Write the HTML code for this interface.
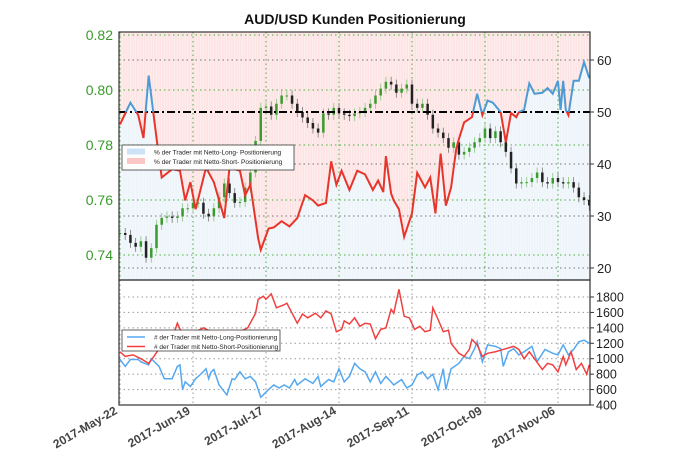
<!DOCTYPE html>
<html><head><meta charset="utf-8"><style>
body{margin:0;background:#fff;}
svg{display:block;font-family:"Liberation Sans",sans-serif;}
</style></head><body>
<svg id="chart" width="680" height="470" viewBox="0 0 680 470" xmlns="http://www.w3.org/2000/svg">
<defs>
<clipPath id="mainClip"><rect x="119" y="32" width="471" height="248"/></clipPath>
<clipPath id="aboveClip"><rect x="119" y="32" width="471" height="80"/></clipPath>
<clipPath id="belowClip"><rect x="119" y="112" width="471" height="168"/></clipPath>
<clipPath id="botClip"><rect x="119" y="280" width="471" height="125"/></clipPath>
<pattern id="stripes" width="2.6" height="10" patternUnits="userSpaceOnUse"><rect x="0" y="0" width="0.8" height="10" fill="#ffffff" opacity="0.5"/></pattern>
</defs>
<text x="355" y="24" text-anchor="middle" font-size="14" font-weight="bold" fill="#111">AUD/USD Kunden Positionierung</text>
<g id="main"></g>
<g id="bottom"></g>
<g id="axes"></g>
</svg>
<script>
// ---- data ----
const startDate = new Date(2017,4,22);
const xTickLabels = ["2017-May-22","2017-Jun-19","2017-Jul-17","2017-Aug-14","2017-Sep-11","2017-Oct-09","2017-Nov-06"];
const xTickDays = [0,28,56,84,112,140,168];
const priceTicks = [0.82,0.80,0.78,0.76,0.74];
const pctTicks = [60,50,40,30,20];
const countTicks = [1800,1600,1400,1200,1000,800,600,400];
const closes = [0.748,0.7473,0.7444,0.743,0.745,0.739,0.7425,0.751,0.7535,0.754,0.7535,0.754,0.757,0.757,0.759,0.759,0.755,0.754,0.757,0.761,0.766,0.7625,0.759,0.7593,0.7645,0.77,0.7815,0.7935,0.794,0.791,0.795,0.798,0.798,0.795,0.792,0.790,0.788,0.786,0.7845,0.7915,0.791,0.7935,0.7915,0.791,0.7905,0.7915,0.792,0.7935,0.795,0.798,0.8005,0.803,0.802,0.799,0.8005,0.802,0.795,0.7935,0.795,0.791,0.786,0.7845,0.7825,0.779,0.781,0.7765,0.7775,0.779,0.781,0.7825,0.786,0.7825,0.785,0.781,0.7775,0.7715,0.766,0.7665,0.7665,0.768,0.770,0.7665,0.766,0.768,0.7665,0.766,0.7665,0.7645,0.761,0.760,0.758];
const pctDays = [0,4,7,9,11,14,16,20,23,25,27,29,33,36,40,42,44,46,48,50,53,54,57,59,62,65,68,71,74,76,79,81,83,85,88,91,94,97,99,101,102,104,105,107,109,112,114,117,119,121,123,125,127,129,130,132,135,137,139,141,143,146,148,150,152,153,155,157,159,162,164,166,168,169,170,171,172,174,176,178,180];
const pctLong = [47.6,51.8,49.4,45,57,45,37.4,39,38.7,33,36.5,31.3,39.3,36.5,29.6,39.3,39,38.7,34,36,25.7,23.5,27.6,27.8,29,28,29.6,34,33,32,32.5,40.5,36,38.7,35,38.7,38,35,36.8,34.6,41.5,34.3,33,31.3,26,30.5,38.3,35.5,37.4,30.5,42,32,35.5,43,44.8,48,49,53.5,49.4,52.2,51.8,50,44.2,49.8,49,50,50.4,55.5,53.5,53.7,54.6,53.5,56,50.4,56,50.4,49.4,56,56,59.6,56.5];
const longDays = [0,2,4,7,8,11,12,15,17,20,22,23,24,25,27,29,31,33,34,35,36,38,41,43,44,46,48,50,52,54,57,59,61,63,65,67,68,71,74,76,77,80,82,84,86,88,90,92,94,96,98,100,102,104,105,108,110,112,114,116,118,120,122,124,125,127,130,132,134,136,137,139,141,144,146,147,149,151,153,155,158,160,163,166,168,170,172,174,176,178,180];
const longCount = [990,900,990,990,960,920,1000,900,740,740,900,920,600,700,640,740,800,870,740,830,860,660,530,740,730,830,740,770,700,500,600,660,620,660,620,730,660,740,680,770,640,730,700,870,700,770,940,870,830,700,830,680,770,700,660,730,620,660,790,830,740,800,600,870,600,870,940,1030,1000,1130,1220,960,1180,1160,1130,900,1090,1130,1050,1090,1160,960,1120,1070,1050,1180,1050,1120,1220,1240,1200];
const shortDays = [0,2,5,8,11,13,15,18,20,22,24,27,29,32,35,38,40,43,46,49,52,53,55,56,58,60,63,64,66,68,70,72,75,77,79,81,83,85,86,88,90,92,94,96,98,100,102,104,105,107,109,111,113,115,117,119,120,122,124,126,127,130,132,134,135,137,139,141,144,148,151,153,155,157,159,162,164,166,168,170,171,173,175,177,179,180];
const shortCount = [1090,1030,1050,1000,940,1030,1130,1160,1260,1460,1310,1350,1350,1400,1350,1350,1350,1310,1350,1400,1590,1770,1810,1770,1840,1660,1700,1720,1590,1460,1580,1530,1590,1530,1620,1580,1350,1380,1490,1450,1530,1420,1460,1450,1260,1380,1400,1640,1590,1900,1550,1530,1380,1420,1350,1370,1660,1510,1350,1370,1200,1070,1030,1120,1250,1180,1030,1070,1090,1130,1160,1120,1000,1090,1000,860,940,920,830,1030,920,1090,860,940,800,920];

// ---- scales ----
const X0=119, X1=590, T=32, MB=280, BB=405;
const xDay = d => 120 + d*2.607;
const yPrice = p => 90 + (0.80-p)/0.02*55;
const yPct = v => 112 - (v-50)*5.2;
const yCount = c => 297 + (1800-c)/1400*108;
const NS="http://www.w3.org/2000/svg";
function mk(tag, attrs, parent){const e=document.createElementNS(NS,tag);for(const k in attrs)e.setAttribute(k,attrs[k]);parent.appendChild(e);return e;}
const main=document.getElementById('main'), bottom=document.getElementById('bottom'), axes=document.getElementById('axes');

// backgrounds
const pts = pctDays.map((d,i)=>[xDay(d),yPct(pctLong[i])]);
const linePts = pts.map(p=>p.join(',')).join(' ');
const pink = mk('polygon',{points:`${X0},${T} ${X1},${T} ${X1},${pts[pts.length-1][1]} `+pts.slice().reverse().map(p=>p.join(',')).join(' ')+` ${X0},${pts[0][1]}`,fill:'#fde3e3','clip-path':'url(#mainClip)'},main);


const blue = mk('polygon',{points:`${X0},${MB} ${X0},${pts[0][1]} `+linePts+` ${X1},${pts[pts.length-1][1]} ${X1},${MB}`,fill:'#edf4fa','clip-path':'url(#mainClip)'},main);


mk('rect',{x:X0,y:T,width:X1-X0,height:MB-T,fill:'url(#stripes)'},main);

// grids main
pctTicks.forEach(v=>{ if(v!==50) mk('line',{x1:X0,x2:X1,y1:yPct(v),y2:yPct(v),stroke:'#777','stroke-width':1,'stroke-dasharray':'1.5,3'},main);});
priceTicks.forEach(p=>mk('line',{x1:X0,x2:X1,y1:yPrice(p),y2:yPrice(p),stroke:'#4caf3c','stroke-width':1,'stroke-dasharray':'1.5,3'},main));
xTickDays.forEach(d=>{mk('line',{x1:xDay(d),x2:xDay(d),y1:T,y2:MB,stroke:'#4caf3c','stroke-width':1,'stroke-dasharray':'1.5,3'},main);
 mk('line',{x1:xDay(d),x2:xDay(d),y1:MB,y2:BB,stroke:'#999','stroke-width':1,'stroke-dasharray':'1.5,3'},bottom);});

// candles
const cw = 2.5, step = 180/(closes.length-1);
closes.forEach((c,i)=>{
  const o = i>0?closes[i-1]:c;
  const x = xDay(i*step);
  const up = c>=o;
  const col = up?'#3b9b2e':'#222';
  const g = mk('g',{},main);
  
  
  const y1=yPrice(Math.max(o,c)), y2=yPrice(Math.min(o,c));
  mk('line',{x1:x,x2:x,y1:y1-5,y2:y2+5,stroke:up?'#8cc47f':'#777','stroke-width':0.8},g);
  mk('rect',{x:x-cw/2,y:y1,width:cw,height:Math.max(1,y2-y1),fill:col},g);
});

// 50 dashed line
const l50=mk('line',{x1:X0,x2:X1,y1:yPct(50),y2:yPct(50),stroke:'#000','stroke-width':2,'stroke-dasharray':'8,3,2,3'},main);



// pct lines
const rl=mk('polyline',{points:linePts,fill:'none',stroke:'#e8352b','stroke-width':2,'clip-path':'url(#belowClip)'},main);


const bl=mk('polyline',{points:linePts,fill:'none',stroke:'#4f9ad3','stroke-width':2,'clip-path':'url(#aboveClip)'},main);



// bottom grid
countTicks.forEach(c=>{ if(c>400) mk('line',{x1:X0,x2:X1,y1:yCount(c),y2:yCount(c),stroke:'#999','stroke-width':1,'stroke-dasharray':'1.5,3'},bottom);});
const lp=mk('polyline',{points:longDays.map((d,i)=>xDay(d)+','+yCount(longCount[i])).join(' '),fill:'none',stroke:'#55a8f0','stroke-width':1.5,'clip-path':'url(#botClip)'},bottom);


const sp=mk('polyline',{points:shortDays.map((d,i)=>xDay(d)+','+yCount(shortCount[i])).join(' '),fill:'none',stroke:'#f24040','stroke-width':1.5,'clip-path':'url(#botClip)'},bottom);



// frames
mk('rect',{x:X0,y:T,width:X1-X0,height:MB-T,fill:'none',stroke:'#333','stroke-width':1.2},axes);
mk('rect',{x:X0,y:MB,width:X1-X0,height:BB-MB,fill:'none',stroke:'#333','stroke-width':1.2},axes);

// tick labels
priceTicks.forEach(p=>{const t=mk('text',{x:113,y:yPrice(p)+5,'text-anchor':'end','font-size':14,fill:'#3a9a2a'},axes);t.textContent=p.toFixed(2);
 
 });
pctTicks.forEach(v=>{mk('line',{x1:X1,x2:X1+4,y1:yPct(v),y2:yPct(v),stroke:'#333'},axes);
 const t=mk('text',{x:597,y:yPct(v)+5,'font-size':13,fill:'#222'},axes);t.textContent=v;
 
 });
countTicks.forEach(c=>{mk('line',{x1:X1,x2:X1+4,y1:yCount(c),y2:yCount(c),stroke:'#333'},axes);
 const t=mk('text',{x:596,y:yCount(c)+4.5,'font-size':12.5,fill:'#222'},axes);t.textContent=c;
 
 });
xTickDays.forEach((d,i)=>{const x=xDay(d);
 const t=mk('text',{x:x-2,y:413,'text-anchor':'end','font-size':12,'font-weight':'bold',fill:'#444',transform:`rotate(-30 ${x-2} 413)`},axes);t.textContent=xTickLabels[i];
 
 });

// legends
function legend(x,y,w,h,items,patch,name){
 const g=mk('g',{},axes);
 
 
 mk('rect',{x:x,y:y,width:w,height:h,fill:'#fff',stroke:'#333','stroke-width':0.8,opacity:0.95},g);
 items.forEach((it,i)=>{const cy=y+7+i*9.5;
  if(patch) mk('rect',{x:x+5,y:cy-3.5,width:18,height:6,fill:it[1]},g);
  else mk('line',{x1:x+5,x2:x+23,y1:cy,y2:cy,stroke:it[1],'stroke-width':1.5},g);
  const t=mk('text',{x:x+32,y:cy+2.5,'font-size':6.5,fill:'#222'},g);t.textContent=it[0];});
}
legend(122,145,172,25,[["% der Trader mit Netto-Long- Positionierung","#cfe3f7"],["% der Trader mit Netto-Short- Positionierung","#fbc6c6"]],true,'percent-legend');
legend(122,330,158,21,[["# der Trader mit Netto-Long-Positionierung","#55a8f0"],["# der Trader mit Netto-Short-Positionierung","#f24040"]],false,'count-legend');
</script>
</body></html>
